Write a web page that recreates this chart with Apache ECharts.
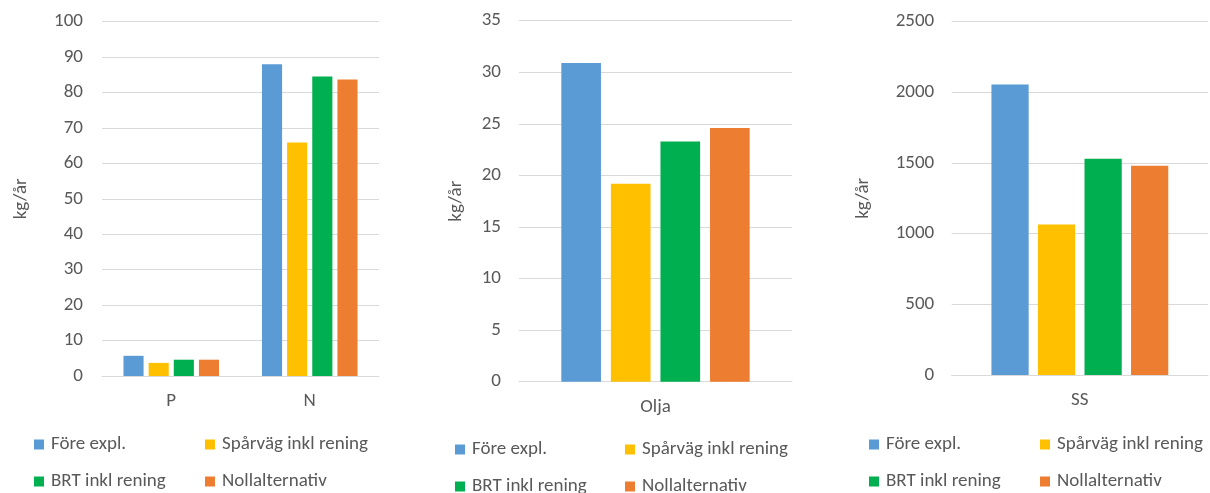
<!DOCTYPE html>
<html>
<head>
<meta charset="utf-8">
<script src="https://cdn.jsdelivr.net/npm/echarts@6/dist/echarts.min.js"></script>
<style>
  html, body { margin: 0; padding: 0; background: #fff; }
  #chart { width: 1210px; height: 493px; }
</style>
</head>
<body>
<div id="chart"></div>
<script>
// Utsläpp per ämne (kg/år) för fyra alternativ
const seriesNames = ['Före expl.', 'Spårväg inkl rening', 'BRT inkl rening', 'Nollalternativ'];
const seriesColors = ['#5B9BD5', '#FFC000', '#00B050', '#ED7D31'];

const nutrientCategories = ['P', 'N'];
const nutrientFore = [5.7, 88.0];
const nutrientSparvag = [3.7, 65.9];
const nutrientBrt = [4.6, 84.5];
const nutrientNoll = [4.6, 83.7];

const oilCategories = ['Olja'];
const oilFore = [30.9];
const oilSparvag = [19.2];
const oilBrt = [23.3];
const oilNoll = [24.6];

const ssCategories = ['SS'];
const ssFore = [2055];
const ssSparvag = [1065];
const ssBrt = [1530];
const ssNoll = [1480];

const yTitle = 'kg/år';

const FONT = "Carlito, Calibri, Lato, sans-serif";
const FS = 19;
const TXT = '#595959';
const GRIDC = '#d9d9d9';

const panels = [
  { cats: nutrientCategories, data: [nutrientFore, nutrientSparvag, nutrientBrt, nutrientNoll],
    max: 100, interval: 10,
    grid: { left: 102, width: 277, top: 21.7, bottom: 117 },
    nameGap: 71.5, labelMargin: 19,
    legend: { x1: 34, x2: 205, y1: 435, y2: 472 } },
  { cats: oilCategories, data: [oilFore, oilSparvag, oilBrt, oilNoll],
    max: 35, interval: 5,
    grid: { left: 519, width: 273, top: 20.7, bottom: 111.3 },
    nameGap: 53.5, labelMargin: 18,
    legend: { x1: 455, x2: 625, y1: 440, y2: 477 } },
  { cats: ssCategories, data: [ssFore, ssSparvag, ssBrt, ssNoll],
    max: 2500, interval: 500,
    grid: { left: 951.7, width: 256.3, top: 21.7, bottom: 118 },
    nameGap: 79, labelMargin: 17.5,
    legend: { x1: 869, x2: 1040, y1: 435, y2: 472 } }
];

const grids = [], xAxes = [], yAxes = [], series = [], legends = [];

panels.forEach((p, i) => {
  grids.push(Object.assign({ containLabel: false }, p.grid));
  xAxes.push({
    type: 'category', gridIndex: i, data: p.cats,
    axisLine: { lineStyle: { color: GRIDC, width: 1 } },
    axisTick: { show: false },
    axisLabel: { color: TXT, fontFamily: FONT, fontSize: FS, margin: 16 }
  });
  yAxes.push({
    type: 'value', gridIndex: i, min: 0, max: p.max, interval: p.interval,
    name: yTitle, nameLocation: 'middle', nameGap: p.nameGap, nameRotate: 90,
    nameTextStyle: { color: TXT, fontFamily: FONT, fontSize: FS },
    axisLine: { show: false }, axisTick: { show: false },
    axisLabel: { color: TXT, fontFamily: FONT, fontSize: FS, margin: p.labelMargin,
                 formatter: v => String(v) },
    splitLine: { lineStyle: { color: GRIDC, width: 1 } }
  });
  p.data.forEach((vals, k) => {
    series.push({
      type: 'bar', name: seriesNames[k], xAxisIndex: i, yAxisIndex: i,
      data: vals, barGap: '25%', barCategoryGap: '31%',
      itemStyle: { color: seriesColors[k] },
      emphasis: { disabled: true }, animation: false
    });
  });
  const pos = [
    [p.legend.x1, p.legend.y1], [p.legend.x2, p.legend.y1],
    [p.legend.x1, p.legend.y2], [p.legend.x2, p.legend.y2]
  ];
  seriesNames.forEach((n, k) => {
    legends.push({
      data: [n], left: pos[k][0], top: pos[k][1], padding: 0,
      icon: 'rect', itemWidth: 10, itemHeight: 10,
      selectedMode: false,
      textStyle: { color: TXT, fontFamily: FONT, fontSize: FS, padding: [0, 0, 0, 2] }
    });
  });
});

const chart = echarts.init(document.getElementById('chart'), null, { renderer: 'canvas' });
chart.setOption({
  animation: false,
  color: seriesColors,
  grid: grids, xAxis: xAxes, yAxis: yAxes, series: series, legend: legends
});
</script>
</body>
</html>
